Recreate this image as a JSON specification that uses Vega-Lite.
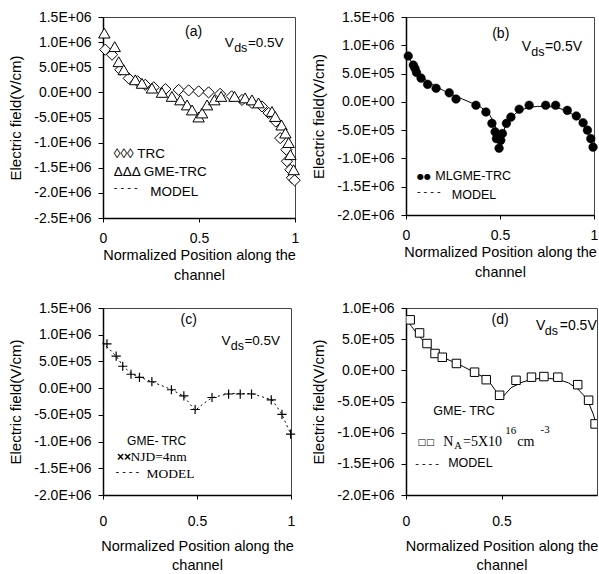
{
  "$schema": "https://vega.github.io/schema/vega-lite/v6.json",
  "background": "white",
  "padding": {"left": 7, "top": 9, "right": 0, "bottom": 0},
  "columns": 2,
  "align": "all",
  "spacing": {"row": 18, "column": 7},
  "config": {
    "view": {"stroke": "#444", "strokeWidth": 1},
    "axis": {"labelFont": "Liberation Sans", "titleFont": "Liberation Sans", "labelColor": "black", "titleColor": "black", "domainColor": "black", "tickColor": "black", "grid": false, "labelFontSize": 14, "titleFontSize": 15, "titleFontWeight": "normal", "domainWidth": 1.5, "tickWidth": 1, "labelFlush": false, "labelOverlap": false},
    "axisY": {"tickSize": 5, "labelPadding": 7, "minExtent": 66, "maxExtent": 66, "titlePadding": 14},
    "axisX": {"tickSize": 4, "labelPadding": 9, "titlePadding": 3, "titleLineHeight": 20, "titleFontSize": 14.5}
  },
  "datasets": {
    "a_trc": [
      {"x":0.012,"y":850000},{"x":0.047,"y":750000},{"x":0.09,"y":450000},{"x":0.134,"y":280000},{"x":0.18,"y":220000},{"x":0.22,"y":150000},{"x":0.264,"y":100000},{"x":0.325,"y":65000},{"x":0.394,"y":50000},{"x":0.446,"y":40000},{"x":0.498,"y":20000},{"x":0.55,"y":0},{"x":0.61,"y":-30000},{"x":0.67,"y":-80000},{"x":0.724,"y":-150000},{"x":0.776,"y":-210000},{"x":0.828,"y":-280000},{"x":0.863,"y":-410000},{"x":0.9,"y":-580000},{"x":0.923,"y":-910000},{"x":0.955,"y":-1140000},{"x":0.958,"y":-1370000},{"x":0.976,"y":-1540000},{"x":0.984,"y":-1700000},{"x":0.998,"y":-1750000}
    ],
    "a_gme": [
      {"x":0.007,"y":1180000},{"x":0.061,"y":910000},{"x":0.082,"y":610000},{"x":0.108,"y":450000},{"x":0.168,"y":250000},{"x":0.203,"y":180000},{"x":0.255,"y":85000},{"x":0.307,"y":0},{"x":0.359,"y":-80000},{"x":0.403,"y":-150000},{"x":0.438,"y":-250000},{"x":0.464,"y":-350000},{"x":0.498,"y":-490000},{"x":0.516,"y":-410000},{"x":0.542,"y":-250000},{"x":0.58,"y":-150000},{"x":0.615,"y":-80000},{"x":0.685,"y":-80000},{"x":0.74,"y":-110000},{"x":0.776,"y":-150000},{"x":0.81,"y":-210000},{"x":0.88,"y":-380000},{"x":0.897,"y":-480000},{"x":0.93,"y":-650000},{"x":0.95,"y":-810000},{"x":0.967,"y":-1000000},{"x":0.976,"y":-1240000},{"x":0.993,"y":-1540000}
    ],
    "a_txt": [
      {"x":0.472,"y":1208000,"t":"(a)","k":"c"},
      {"x":0.634,"y":911000,"t":"V","k":"v"},
      {"x":0.683,"y":810000,"t":"ds","k":"sub"},
      {"x":0.755,"y":911000,"t":"=0.5V","k":"v"},
      {"x":0.056,"y":-1304000,"t":"◊◊◊ TRC","k":"leg"},
      {"x":0.056,"y":-1669000,"t":"ΔΔΔ GME-TRC","k":"leg"},
      {"x":0.056,"y":-1968000,"t":"- - - -","k":"dash"},
      {"x":0.246,"y":-2065000,"t":"MODEL","k":"leg"}
    ],
    "b_pts": [
      {"x":0.012,"y":810000},{"x":0.039,"y":650000},{"x":0.048,"y":590000},{"x":0.056,"y":520000},{"x":0.08,"y":420000},{"x":0.115,"y":310000},{"x":0.16,"y":240000},{"x":0.23,"y":160000},{"x":0.266,"y":50000},{"x":0.372,"y":-60000},{"x":0.425,"y":-180000},{"x":0.457,"y":-380000},{"x":0.474,"y":-530000},{"x":0.481,"y":-650000},{"x":0.495,"y":-820000},{"x":0.504,"y":-680000},{"x":0.513,"y":-560000},{"x":0.534,"y":-380000},{"x":0.558,"y":-270000},{"x":0.602,"y":-130000},{"x":0.655,"y":-60000},{"x":0.743,"y":-60000},{"x":0.796,"y":-60000},{"x":0.858,"y":-150000},{"x":0.906,"y":-250000},{"x":0.942,"y":-370000},{"x":0.965,"y":-500000},{"x":0.983,"y":-650000},{"x":0.995,"y":-800000}
    ],
    "b_model": [
      {"x":0,"y":850000},{"x":0.03,"y":700000},{"x":0.06,"y":550000},{"x":0.1,"y":400000},{"x":0.15,"y":290000},{"x":0.2,"y":200000},{"x":0.25,"y":120000},{"x":0.3,"y":50000},{"x":0.35,"y":-20000},{"x":0.4,"y":-100000},{"x":0.44,"y":-200000},{"x":0.47,"y":-380000},{"x":0.49,"y":-600000},{"x":0.5,"y":-720000},{"x":0.51,"y":-600000},{"x":0.53,"y":-420000},{"x":0.56,"y":-270000},{"x":0.6,"y":-160000},{"x":0.65,"y":-100000},{"x":0.7,"y":-80000},{"x":0.75,"y":-80000},{"x":0.8,"y":-100000},{"x":0.85,"y":-150000},{"x":0.9,"y":-250000},{"x":0.94,"y":-380000},{"x":0.97,"y":-550000},{"x":1.0,"y":-850000}
    ],
    "b_txt": [
      {"x":0.504,"y":1207000,"t":"(b)","k":"c"},
      {"x":0.616,"y":896000,"t":"V","k":"v"},
      {"x":0.666,"y":813000,"t":"ds","k":"sub"},
      {"x":0.74,"y":896000,"t":"=0.5V","k":"v"},
      {"x":0.059,"y":-1366000,"t":"●●","k":"dot"},
      {"x":0.156,"y":-1383000,"t":"MLGME-TRC","k":"leg"},
      {"x":0.058,"y":-1643000,"t":"- - - -","k":"dash"},
      {"x":0.244,"y":-1719000,"t":"MODEL","k":"leg"}
    ],
    "c_pts": [
      {"x":0.021,"y":830000},{"x":0.07,"y":600000},{"x":0.105,"y":410000},{"x":0.149,"y":260000},{"x":0.194,"y":200000},{"x":0.26,"y":120000},{"x":0.364,"y":-30000},{"x":0.43,"y":-145000},{"x":0.49,"y":-400000},{"x":0.58,"y":-175000},{"x":0.668,"y":-110000},{"x":0.73,"y":-110000},{"x":0.79,"y":-110000},{"x":0.895,"y":-220000},{"x":0.952,"y":-490000},{"x":0.998,"y":-860000}
    ],
    "c_model": [
      {"x":0,"y":850000},{"x":0.07,"y":600000},{"x":0.105,"y":420000},{"x":0.15,"y":270000},{"x":0.2,"y":200000},{"x":0.26,"y":120000},{"x":0.36,"y":-20000},{"x":0.43,"y":-150000},{"x":0.49,"y":-420000},{"x":0.53,"y":-300000},{"x":0.58,"y":-180000},{"x":0.67,"y":-100000},{"x":0.79,"y":-100000},{"x":0.9,"y":-220000},{"x":0.95,"y":-480000},{"x":1.0,"y":-870000}
    ],
    "c_txt": [
      {"x":0.456,"y":1270000,"t":"(c)","k":"c"},
      {"x":0.63,"y":811000,"t":"V","k":"v"},
      {"x":0.68,"y":717000,"t":"ds","k":"sub"},
      {"x":0.752,"y":811000,"t":"=0.5V","k":"v"},
      {"x":0.128,"y":-1060000,"t":"GME- TRC","k":"leg"},
      {"x":0.074,"y":-1365000,"t":"××","k":"sym"},
      {"x":0.146,"y":-1355000,"t":"NJD=4nm","k":"serif"},
      {"x":0.066,"y":-1620000,"t":"- - - -","k":"dash"},
      {"x":0.231,"y":-1674000,"t":"MODEL","k":"serif"}
    ],
    "d_pts": [
      {"x":0.022,"y":810000},{"x":0.071,"y":600000},{"x":0.11,"y":430000},{"x":0.152,"y":270000},{"x":0.19,"y":210000},{"x":0.264,"y":110000},{"x":0.359,"y":-30000},{"x":0.42,"y":-150000},{"x":0.49,"y":-400000},{"x":0.576,"y":-160000},{"x":0.657,"y":-110000},{"x":0.722,"y":-100000},{"x":0.795,"y":-110000},{"x":0.899,"y":-230000},{"x":0.956,"y":-480000},{"x":0.99,"y":-860000}
    ],
    "d_model": [
      {"x":0,"y":820000},{"x":0.03,"y":700000},{"x":0.06,"y":580000},{"x":0.1,"y":440000},{"x":0.15,"y":300000},{"x":0.2,"y":200000},{"x":0.25,"y":130000},{"x":0.3,"y":60000},{"x":0.35,"y":-20000},{"x":0.4,"y":-100000},{"x":0.44,"y":-200000},{"x":0.47,"y":-330000},{"x":0.49,"y":-430000},{"x":0.5,"y":-460000},{"x":0.52,"y":-380000},{"x":0.55,"y":-280000},{"x":0.6,"y":-200000},{"x":0.65,"y":-150000},{"x":0.7,"y":-130000},{"x":0.75,"y":-130000},{"x":0.8,"y":-150000},{"x":0.85,"y":-200000},{"x":0.9,"y":-300000},{"x":0.93,"y":-400000},{"x":0.96,"y":-550000},{"x":0.98,"y":-700000},{"x":1.0,"y":-900000}
    ],
    "d_txt": [
      {"x":0.493,"y":810000,"t":"(d)","k":"c"},
      {"x":0.681,"y":648000,"t":"V","k":"v"},
      {"x":0.727,"y":568000,"t":"ds","k":"sub"},
      {"x":0.805,"y":648000,"t":"=0.5V","k":"v"},
      {"x":0.143,"y":-723000,"t":"GME- TRC","k":"leg"},
      {"x":0.0605,"y":-1200000,"t":"□□","k":"sym"},
      {"x":0.195,"y":-1206000,"t":"N","k":"serif"},
      {"x":0.252,"y":-1260000,"t":"A","k":"serifsub"},
      {"x":0.2985,"y":-1206000,"t":"=5X10","k":"serif"},
      {"x":0.519,"y":-1017000,"t":"16","k":"serifsup"},
      {"x":0.583,"y":-1206000,"t":"cm","k":"serif"},
      {"x":0.704,"y":-1003000,"t":"-3","k":"serifsup"},
      {"x":0.048,"y":-1547000,"t":"- - - -","k":"dash"},
      {"x":0.221,"y":-1555000,"t":"MODEL","k":"leg"}
    ]
  },
  "concat": [
    {
      "width": 192, "height": 201,
      "encoding": {
        "x": {"field": "x", "type": "quantitative", "scale": {"domain": [0, 1], "nice": false, "zero": false}, "axis": {"values": [0, 0.5, 1], "format": "~g", "title": ["Normalized Position along the", "channel"]}},
        "y": {"field": "y", "type": "quantitative", "scale": {"domain": [-2500000, 1500000], "nice": false}, "axis": {"values": [-2500000, -2000000, -1500000, -1000000, -500000, 0, 500000, 1000000, 1500000], "title": "Electric field(V/cm)", "labelExpr": "datum.value == 0 ? '0.0E+00' : (datum.value < 0 ? '-' : '') + (abs(datum.value) < 1000000 ? format(abs(datum.value) / 100000, '.1f') + 'E+05' : format(abs(datum.value) / 1000000, '.1f') + 'E+06')"}}
      },
      "layer": [
        {"data": {"name": "a_trc"}, "mark": {"type": "point", "shape": "diamond", "size": 125, "filled": true, "fill": "white", "stroke": "black", "strokeWidth": 1, "opacity": 1}},
        {"data": {"name": "a_gme"}, "mark": {"type": "point", "shape": "triangle-up", "size": 130, "filled": true, "fill": "white", "stroke": "black", "strokeWidth": 1, "opacity": 1}},
        {"data": {"name": "a_txt"}, "transform": [{"filter": "datum.k === 'c'"}], "mark": {"type": "text", "font": "Liberation Sans", "fontSize": 14, "align": "center", "baseline": "middle", "color": "black"}, "encoding": {"text": {"field": "t"}}},
        {"data": {"name": "a_txt"}, "transform": [{"filter": "datum.k === 'v'"}], "mark": {"type": "text", "font": "Liberation Sans", "fontSize": 13.5, "align": "left", "baseline": "alphabetic", "color": "black"}, "encoding": {"text": {"field": "t"}}},
        {"data": {"name": "a_txt"}, "transform": [{"filter": "datum.k === 'sub'"}], "mark": {"type": "text", "font": "Liberation Sans", "fontSize": 12.5, "align": "left", "baseline": "alphabetic", "color": "black"}, "encoding": {"text": {"field": "t"}}},
        {"data": {"name": "a_txt"}, "transform": [{"filter": "datum.k === 'leg'"}], "mark": {"type": "text", "font": "Liberation Sans", "fontSize": 13.5, "align": "left", "baseline": "alphabetic", "color": "black"}, "encoding": {"text": {"field": "t"}}},
        {"data": {"name": "a_txt"}, "transform": [{"filter": "datum.k === 'dash'"}], "mark": {"type": "text", "font": "Liberation Sans", "fontSize": 11, "align": "left", "baseline": "alphabetic", "color": "black"}, "encoding": {"text": {"field": "t"}}}
      ]
    },
    {
      "width": 188, "height": 198,
      "encoding": {
        "x": {"field": "x", "type": "quantitative", "scale": {"domain": [0, 1], "nice": false, "zero": false}, "axis": {"values": [0, 0.5, 1], "format": "~g", "title": ["Normalized Position along the", "channel"]}},
        "y": {"field": "y", "type": "quantitative", "scale": {"domain": [-2000000, 1500000], "nice": false}, "axis": {"values": [-2000000, -1500000, -1000000, -500000, 0, 500000, 1000000, 1500000], "title": "Electric field(V/cm)", "labelExpr": "datum.value == 0 ? '0.0E+00' : (datum.value < 0 ? '-' : '') + (abs(datum.value) < 1000000 ? format(abs(datum.value) / 100000, '.1f') + 'E+05' : format(abs(datum.value) / 1000000, '.1f') + 'E+06')"}}
      },
      "layer": [
        {"data": {"name": "b_model"}, "mark": {"type": "line", "color": "black", "strokeWidth": 1}},
        {"data": {"name": "b_pts"}, "mark": {"type": "point", "shape": "circle", "size": 75, "filled": true, "fill": "black", "stroke": "black", "strokeWidth": 0.5, "opacity": 1}},
        {"data": {"name": "b_txt"}, "transform": [{"filter": "datum.k === 'c'"}], "mark": {"type": "text", "font": "Liberation Sans", "fontSize": 14, "align": "center", "baseline": "middle", "color": "black"}, "encoding": {"text": {"field": "t"}}},
        {"data": {"name": "b_txt"}, "transform": [{"filter": "datum.k === 'v'"}], "mark": {"type": "text", "font": "Liberation Sans", "fontSize": 14, "align": "left", "baseline": "alphabetic", "color": "black"}, "encoding": {"text": {"field": "t"}}},
        {"data": {"name": "b_txt"}, "transform": [{"filter": "datum.k === 'sub'"}], "mark": {"type": "text", "font": "Liberation Sans", "fontSize": 12.5, "align": "left", "baseline": "alphabetic", "color": "black"}, "encoding": {"text": {"field": "t"}}},
        {"data": {"name": "b_txt"}, "transform": [{"filter": "datum.k === 'leg'"}], "mark": {"type": "text", "font": "Liberation Sans", "fontSize": 12.5, "align": "left", "baseline": "alphabetic", "color": "black"}, "encoding": {"text": {"field": "t"}}},
        {"data": {"name": "b_txt"}, "transform": [{"filter": "datum.k === 'dot'"}], "mark": {"type": "text", "font": "DejaVu Sans", "fontSize": 8, "align": "left", "baseline": "alphabetic", "color": "black"}, "encoding": {"text": {"field": "t"}}},
        {"data": {"name": "b_txt"}, "transform": [{"filter": "datum.k === 'dash'"}], "mark": {"type": "text", "font": "Liberation Sans", "fontSize": 11, "align": "left", "baseline": "alphabetic", "color": "black"}, "encoding": {"text": {"field": "t"}}}
      ]
    },
    {
      "width": 188, "height": 187,
      "encoding": {
        "x": {"field": "x", "type": "quantitative", "scale": {"domain": [0, 1], "nice": false, "zero": false}, "axis": {"values": [0, 0.5, 1], "format": "~g", "labelPadding": 15, "titlePadding": 11, "titleLineHeight": 19, "title": ["Normalized Position along the", "channel"]}},
        "y": {"field": "y", "type": "quantitative", "scale": {"domain": [-2000000, 1500000], "nice": false}, "axis": {"values": [-2000000, -1500000, -1000000, -500000, 0, 500000, 1000000, 1500000], "title": "Electric field(V/cm)", "labelExpr": "datum.value == 0 ? '0.0E+00' : (datum.value < 0 ? '-' : '') + (abs(datum.value) < 1000000 ? format(abs(datum.value) / 100000, '.1f') + 'E+05' : format(abs(datum.value) / 1000000, '.1f') + 'E+06')"}}
      },
      "layer": [
        {"data": {"name": "c_model"}, "mark": {"type": "line", "color": "black", "strokeWidth": 1, "strokeDash": [2, 3]}},
        {"data": {"name": "c_pts"}, "mark": {"type": "point", "shape": "M-1,0L1,0M0,-1L0,1", "size": 85, "filled": false, "stroke": "black", "strokeWidth": 1.2, "opacity": 1}},
        {"data": {"name": "c_txt"}, "transform": [{"filter": "datum.k === 'c'"}], "mark": {"type": "text", "font": "Liberation Sans", "fontSize": 14, "align": "center", "baseline": "middle", "color": "black"}, "encoding": {"text": {"field": "t"}}},
        {"data": {"name": "c_txt"}, "transform": [{"filter": "datum.k === 'v'"}], "mark": {"type": "text", "font": "Liberation Sans", "fontSize": 13.5, "align": "left", "baseline": "alphabetic", "color": "black"}, "encoding": {"text": {"field": "t"}}},
        {"data": {"name": "c_txt"}, "transform": [{"filter": "datum.k === 'sub'"}], "mark": {"type": "text", "font": "Liberation Sans", "fontSize": 12.5, "align": "left", "baseline": "alphabetic", "color": "black"}, "encoding": {"text": {"field": "t"}}},
        {"data": {"name": "c_txt"}, "transform": [{"filter": "datum.k === 'leg'"}], "mark": {"type": "text", "font": "Liberation Sans", "fontSize": 12, "align": "left", "baseline": "alphabetic", "color": "black"}, "encoding": {"text": {"field": "t"}}},
        {"data": {"name": "c_txt"}, "transform": [{"filter": "datum.k === 'sym'"}], "mark": {"type": "text", "font": "Liberation Sans", "fontSize": 12, "fontWeight": "bold", "align": "left", "baseline": "alphabetic", "color": "black"}, "encoding": {"text": {"field": "t"}}},
        {"data": {"name": "c_txt"}, "transform": [{"filter": "datum.k === 'serif'"}], "mark": {"type": "text", "font": "Liberation Serif", "fontSize": 13.5, "align": "left", "baseline": "alphabetic", "color": "black"}, "encoding": {"text": {"field": "t"}}},
        {"data": {"name": "c_txt"}, "transform": [{"filter": "datum.k === 'dash'"}], "mark": {"type": "text", "font": "Liberation Sans", "fontSize": 11, "align": "left", "baseline": "alphabetic", "color": "black"}, "encoding": {"text": {"field": "t"}}}
      ]
    },
    {
      "width": 191, "height": 187,
      "encoding": {
        "x": {"field": "x", "type": "quantitative", "scale": {"domain": [0, 1], "nice": false, "zero": false}, "axis": {"values": [0, 0.5], "format": "~g", "labelPadding": 15, "titlePadding": 11, "titleLineHeight": 19, "title": ["Normalized Position along the", "channel"]}},
        "y": {"field": "y", "type": "quantitative", "scale": {"domain": [-2000000, 1000000], "nice": false}, "axis": {"values": [-2000000, -1500000, -1000000, -500000, 0, 500000, 1000000], "title": "Electric field(V/cm)", "labelExpr": "datum.value == 0 ? '0.0E+00' : (datum.value < 0 ? '-' : '') + (abs(datum.value) < 1000000 ? format(abs(datum.value) / 100000, '.1f') + 'E+05' : format(abs(datum.value) / 1000000, '.1f') + 'E+06')"}}
      },
      "layer": [
        {"data": {"name": "d_model"}, "mark": {"type": "line", "color": "black", "strokeWidth": 1, "clip": true}},
        {"data": {"name": "d_pts"}, "mark": {"type": "point", "shape": "square", "size": 72, "filled": true, "fill": "white", "stroke": "black", "strokeWidth": 1, "opacity": 1, "clip": true}},
        {"data": {"name": "d_txt"}, "transform": [{"filter": "datum.k === 'c'"}], "mark": {"type": "text", "font": "Liberation Sans", "fontSize": 14, "align": "center", "baseline": "middle", "color": "black", "clip": true}, "encoding": {"text": {"field": "t"}}},
        {"data": {"name": "d_txt"}, "transform": [{"filter": "datum.k === 'v'"}], "mark": {"type": "text", "font": "Liberation Sans", "fontSize": 14, "align": "left", "baseline": "alphabetic", "color": "black", "clip": true}, "encoding": {"text": {"field": "t"}}},
        {"data": {"name": "d_txt"}, "transform": [{"filter": "datum.k === 'sub'"}], "mark": {"type": "text", "font": "Liberation Sans", "fontSize": 12.5, "align": "left", "baseline": "alphabetic", "color": "black", "clip": true}, "encoding": {"text": {"field": "t"}}},
        {"data": {"name": "d_txt"}, "transform": [{"filter": "datum.k === 'leg'"}], "mark": {"type": "text", "font": "Liberation Sans", "fontSize": 12.5, "align": "left", "baseline": "alphabetic", "color": "black", "clip": true}, "encoding": {"text": {"field": "t"}}},
        {"data": {"name": "d_txt"}, "transform": [{"filter": "datum.k === 'sym'"}], "mark": {"type": "text", "font": "DejaVu Sans", "fontSize": 9, "align": "left", "baseline": "alphabetic", "color": "black", "clip": true}, "encoding": {"text": {"field": "t"}}},
        {"data": {"name": "d_txt"}, "transform": [{"filter": "datum.k === 'serif'"}], "mark": {"type": "text", "font": "Liberation Serif", "fontSize": 14, "align": "left", "baseline": "alphabetic", "color": "black", "clip": true}, "encoding": {"text": {"field": "t"}}},
        {"data": {"name": "d_txt"}, "transform": [{"filter": "datum.k === 'serifsub'"}], "mark": {"type": "text", "font": "Liberation Serif", "fontSize": 10.5, "align": "left", "baseline": "alphabetic", "color": "black", "clip": true}, "encoding": {"text": {"field": "t"}}},
        {"data": {"name": "d_txt"}, "transform": [{"filter": "datum.k === 'serifsup'"}], "mark": {"type": "text", "font": "Liberation Serif", "fontSize": 11, "align": "left", "baseline": "alphabetic", "color": "black", "clip": true}, "encoding": {"text": {"field": "t"}}},
        {"data": {"name": "d_txt"}, "transform": [{"filter": "datum.k === 'dash'"}], "mark": {"type": "text", "font": "Liberation Sans", "fontSize": 11, "align": "left", "baseline": "alphabetic", "color": "black", "clip": true}, "encoding": {"text": {"field": "t"}}}
      ]
    }
  ]
}
